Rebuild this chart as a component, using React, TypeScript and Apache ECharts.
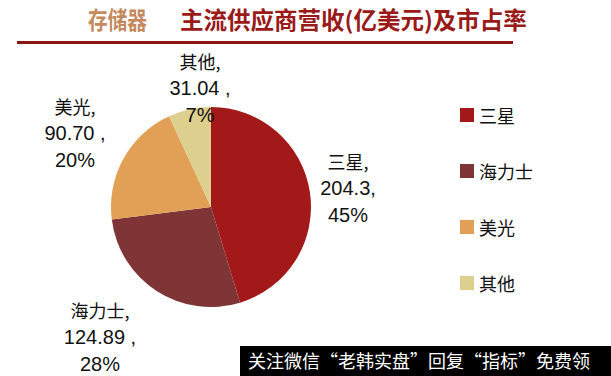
import React, { useEffect, useRef } from "react";
import * as echarts from "echarts";

const categories = ["三星", "海力士", "美光", "其他"];
const values = [204.3, 124.89, 90.7, 31.04];
const valueTexts = ["204.3,", "124.89 ,", "90.70 ,", "31.04 ,"];
const colors = ["#A3191A", "#7F3535", "#E1A055", "#DDD08E"];
const labelPos = [
  [348, 188],
  [100, 337],
  [75, 133],
  [200, 88],
];

export default function App() {
  const ref = useRef<HTMLDivElement>(null);
  useEffect(() => {
    document.body.style.margin = "0";
    const chart = echarts.init(ref.current!, null, { renderer: "svg" });
    chart.setOption({
      animation: false,
      backgroundColor: "#ffffff",
      color: colors,
      legend: {
        orient: "vertical",
        left: 455,
        top: 101,
        itemGap: 38,
        itemWidth: 14,
        itemHeight: 14,
        icon: "rect",
        data: categories,
        textStyle: {
          fontFamily: "Noto Sans CJK SC",
          fontSize: 18,
          color: "#111",
          lineHeight: 18,
        },
      },
      graphic: [
        {
          type: "text",
          x: 88,
          y: 7,
          scaleX: 0.82,
          style: {
            text: "存储器",
            fontSize: 24,
            fontWeight: "bold",
            fontFamily: "Noto Sans CJK SC",
            fill: "#C48A5E",
          },
        },
        {
          type: "text",
          left: 180,
          top: 7,
          style: {
            text: "主流供应商营收(亿美元)及市占率",
            fontSize: 23.5,
            fontWeight: "bold",
            fontFamily: "Noto Sans CJK SC",
            fill: "#9A1A1A",
          },
        },
        {
          type: "rect",
          shape: { x: 17, y: 41, width: 496, height: 3 },
          style: { fill: "#8A1515" },
        },
        {
          type: "rect",
          shape: { x: 240, y: 346, width: 371, height: 30 },
          style: { fill: "#000000" },
        },
        {
          type: "text",
          left: 248,
          top: 351,
          style: {
            text: "关注微信“老韩实盘”回复“指标”免费领",
            fontSize: 18,
            fontFamily: "Noto Sans CJK SC",
            fill: "#ffffff",
          },
        },
      ],
      series: [
        {
          type: "pie",
          center: [211, 207],
          radius: 100,
          startAngle: 90,
          clockwise: true,
          percentPrecision: 0,
          data: categories.map((c, i) => ({ name: c, value: values[i] })),
          labelLine: { show: false },
          label: {
            show: true,
            position: "outside",
            align: "center",
            formatter: (p: any) =>
              `{n|${p.name},}\n{v|${valueTexts[p.dataIndex]}}\n{v|${p.percent}%}`,
            rich: {
              n: {
                fontFamily: "Noto Sans CJK SC",
                fontSize: 18,
                color: "#111",
                lineHeight: 27,
                align: "center",
              },
              v: {
                fontFamily: "Liberation Sans",
                fontSize: 20,
                color: "#111",
                lineHeight: 27,
                align: "center",
              },
            },
          },
          labelLayout: (p: any) => ({
            x: labelPos[p.dataIndex][0],
            y: labelPos[p.dataIndex][1],
            align: "center",
            verticalAlign: "middle",
          }),
        },
      ],
    });
    return () => chart.dispose();
  }, []);
  return <div ref={ref} style={{ width: 611, height: 376 }} />;
}
